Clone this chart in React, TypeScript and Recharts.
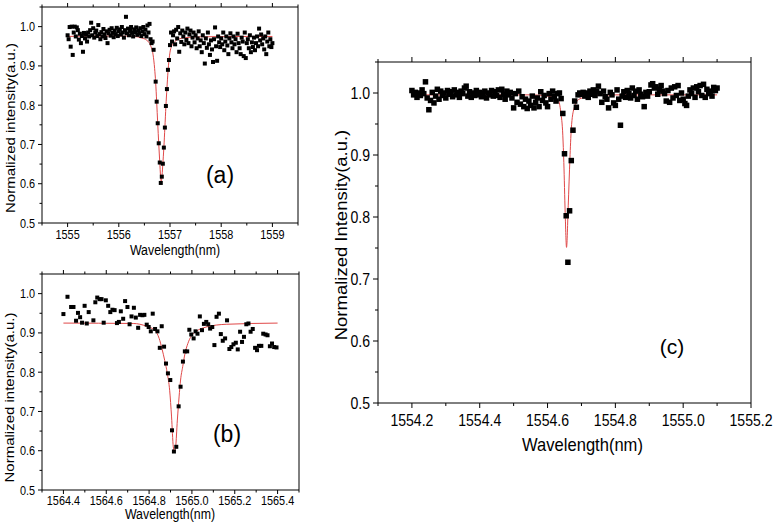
import React from 'react';
import { ComposedChart, XAxis, YAxis, Scatter, Line } from 'recharts';

const FONT = '"Liberation Sans", Arial, Helvetica, sans-serif';

type Pt = [number, number];

// ---------------- Panel (a) ----------------
const aPoints: Pt[] = [
  [1555.00, 0.978], [1555.02, 0.968], [1555.04, 0.999], [1555.06, 0.949], [1555.08, 1.000],
  [1555.10, 0.928], [1555.12, 0.985], [1555.14, 1.000], [1555.16, 0.975], [1555.18, 0.998],
  [1555.20, 0.991], [1555.22, 0.967], [1555.24, 0.982], [1555.26, 0.958], [1555.28, 0.976],
  [1555.30, 0.936], [1555.32, 0.984], [1555.34, 0.970], [1555.36, 0.980], [1555.38, 0.962],
  [1555.40, 0.985], [1555.42, 0.975], [1555.44, 0.991], [1555.46, 1.010], [1555.48, 0.978],
  [1555.50, 0.996], [1555.52, 0.972], [1555.54, 0.985], [1555.56, 0.990], [1555.58, 0.976],
  [1555.60, 1.004], [1555.62, 0.981], [1555.64, 0.968], [1555.66, 0.986], [1555.68, 0.975],
  [1555.70, 0.994], [1555.72, 0.980], [1555.74, 0.971], [1555.76, 0.988], [1555.78, 0.958],
  [1555.80, 0.983], [1555.82, 0.992], [1555.84, 0.977], [1555.86, 0.996], [1555.88, 0.984],
  [1555.90, 0.973], [1555.92, 0.990], [1555.94, 0.981], [1555.96, 0.997], [1555.98, 0.976],
  [1556.00, 0.988], [1556.02, 0.993], [1556.04, 0.980], [1556.06, 0.999], [1556.08, 0.985],
  [1556.10, 0.972], [1556.12, 0.991], [1556.14, 1.025], [1556.16, 0.983], [1556.18, 0.995],
  [1556.20, 0.978], [1556.22, 0.989], [1556.24, 0.999], [1556.26, 0.984], [1556.28, 0.975],
  [1556.30, 0.993], [1556.32, 0.986], [1556.34, 0.998], [1556.36, 0.979], [1556.38, 0.990],
  [1556.40, 0.983], [1556.42, 0.996], [1556.44, 0.976], [1556.46, 0.988], [1556.48, 0.999],
  [1556.50, 0.981], [1556.52, 0.992], [1556.54, 0.975], [1556.56, 1.003], [1556.58, 0.985],
  [1556.60, 1.007], [1556.62, 0.968], [1556.64, 0.958], [1556.66, 0.962], [1556.68, 0.941],
  [1556.72, 0.860], [1556.74, 0.809], [1556.76, 0.754], [1556.78, 0.703], [1556.80, 0.654],
  [1556.82, 0.602], [1556.84, 0.618], [1556.86, 0.651], [1556.88, 0.692], [1556.90, 0.743],
  [1556.92, 0.798], [1556.94, 0.841], [1556.96, 0.890], [1556.98, 0.915], [1557.00, 0.953],
  [1557.02, 0.985], [1557.04, 0.962], [1557.06, 0.978], [1557.08, 0.988], [1557.10, 0.955],
  [1557.12, 0.992], [1557.14, 0.970], [1557.16, 0.999], [1557.18, 0.936], [1557.20, 0.983],
  [1557.22, 0.961], [1557.24, 0.990], [1557.26, 0.975], [1557.28, 0.955], [1557.30, 0.985],
  [1557.32, 0.966], [1557.34, 0.995], [1557.36, 0.958], [1557.38, 0.980], [1557.40, 0.990],
  [1557.42, 0.950], [1557.44, 0.972], [1557.46, 0.985], [1557.48, 0.960], [1557.50, 0.978],
  [1557.52, 0.945], [1557.54, 0.970], [1557.56, 0.988], [1557.58, 0.950], [1557.60, 0.965],
  [1557.62, 0.935], [1557.64, 0.978], [1557.66, 0.958], [1557.68, 0.906], [1557.70, 0.970],
  [1557.72, 0.946], [1557.74, 0.985], [1557.76, 0.955], [1557.78, 0.928], [1557.80, 0.965],
  [1557.82, 0.942], [1557.84, 0.910], [1557.86, 0.968], [1557.88, 0.998], [1557.90, 0.950],
  [1557.92, 0.913], [1557.94, 0.975], [1557.96, 0.960], [1557.98, 0.948], [1558.00, 0.970],
  [1558.02, 0.955], [1558.04, 0.985], [1558.06, 0.940], [1558.08, 0.962], [1558.10, 0.975],
  [1558.12, 0.952], [1558.14, 0.930], [1558.16, 0.970], [1558.18, 0.983], [1558.20, 0.960],
  [1558.22, 0.945], [1558.24, 0.975], [1558.26, 0.955], [1558.28, 0.968], [1558.30, 0.935],
  [1558.32, 0.982], [1558.34, 0.958], [1558.36, 0.945], [1558.38, 0.930], [1558.40, 0.972],
  [1558.42, 0.962], [1558.44, 0.925], [1558.46, 0.985], [1558.48, 0.920], [1558.50, 0.958],
  [1558.52, 0.968], [1558.54, 0.945], [1558.56, 0.978], [1558.58, 0.935], [1558.60, 0.960],
  [1558.62, 0.948], [1558.64, 0.972], [1558.66, 0.940], [1558.68, 0.958], [1558.70, 0.975],
  [1558.72, 0.950], [1558.74, 0.995], [1558.76, 0.965], [1558.78, 0.980], [1558.80, 0.955],
  [1558.82, 0.970], [1558.84, 0.942], [1558.86, 0.975], [1558.88, 0.930], [1558.90, 0.962],
  [1558.92, 0.985], [1558.94, 0.950], [1558.96, 0.968], [1558.98, 0.948], [1559.00, 0.958],
];
const aFit: Pt[] = [
  [1555.00, 0.975], [1555.50, 0.976], [1556.00, 0.976], [1556.30, 0.975], [1556.45, 0.971],
  [1556.55, 0.965], [1556.62, 0.952], [1556.67, 0.928], [1556.70, 0.893], [1556.72, 0.858],
  [1556.74, 0.808], [1556.76, 0.754], [1556.78, 0.702], [1556.80, 0.655], [1556.815, 0.620],
  [1556.83, 0.606], [1556.845, 0.622], [1556.86, 0.650], [1556.88, 0.692], [1556.90, 0.743],
  [1556.92, 0.797], [1556.94, 0.843], [1556.96, 0.884], [1556.98, 0.914], [1557.00, 0.935],
  [1557.03, 0.950], [1557.08, 0.960], [1557.15, 0.967], [1557.30, 0.972], [1557.60, 0.974],
  [1558.50, 0.975], [1559.00, 0.975],
];
const aXMajor = [1555, 1556, 1557, 1558, 1559];
const aXMinor = [1554.5, 1555.5, 1556.5, 1557.5, 1558.5, 1559.5];

// ---------------- Panel (b) ----------------
const bPoints: Pt[] = [
  [1564.400, 0.948], [1564.419, 0.992], [1564.436, 0.966], [1564.447, 0.966], [1564.459, 0.931],
  [1564.468, 0.951], [1564.478, 0.940], [1564.487, 0.926], [1564.499, 0.969], [1564.509, 0.924],
  [1564.518, 0.953], [1564.540, 0.932], [1564.549, 0.978], [1564.558, 0.990], [1564.569, 0.986],
  [1564.578, 0.986], [1564.588, 0.926], [1564.598, 0.983], [1564.609, 0.969], [1564.619, 0.953],
  [1564.629, 0.959], [1564.639, 0.958], [1564.650, 0.925], [1564.659, 0.928], [1564.668, 0.955],
  [1564.679, 0.936], [1564.688, 0.981], [1564.699, 0.966], [1564.709, 0.922], [1564.718, 0.942],
  [1564.729, 0.964], [1564.738, 0.939], [1564.749, 0.913], [1564.758, 0.946], [1564.769, 0.945],
  [1564.778, 0.946], [1564.789, 0.921], [1564.798, 0.915], [1564.808, 0.904], [1564.817, 0.949],
  [1564.828, 0.910], [1564.839, 0.904], [1564.850, 0.862], [1564.859, 0.917], [1564.870, 0.865],
  [1564.879, 0.822], [1564.888, 0.797], [1564.899, 0.780], [1564.907, 0.652], [1564.916, 0.598],
  [1564.927, 0.610], [1564.938, 0.713], [1564.947, 0.763], [1564.958, 0.827], [1564.967, 0.853],
  [1564.978, 0.853], [1564.988, 0.908], [1564.997, 0.896], [1565.008, 0.886], [1565.017, 0.904],
  [1565.026, 0.898], [1565.037, 0.942], [1565.047, 0.907], [1565.056, 0.923], [1565.067, 0.928],
  [1565.076, 0.922], [1565.085, 0.911], [1565.095, 0.915], [1565.105, 0.869], [1565.115, 0.941],
  [1565.126, 0.949], [1565.135, 0.897], [1565.144, 0.880], [1565.155, 0.886], [1565.164, 0.932],
  [1565.175, 0.859], [1565.184, 0.864], [1565.194, 0.871], [1565.205, 0.875], [1565.214, 0.858],
  [1565.225, 0.903], [1565.234, 0.877], [1565.243, 0.890], [1565.254, 0.922], [1565.264, 0.924],
  [1565.274, 0.903], [1565.284, 0.910], [1565.295, 0.862], [1565.304, 0.856], [1565.313, 0.867],
  [1565.324, 0.867], [1565.333, 0.898], [1565.344, 0.896], [1565.353, 0.894], [1565.364, 0.866],
  [1565.374, 0.873], [1565.384, 0.864], [1565.395, 0.863],
];
const bFit: Pt[] = [
  [1564.400, 0.925], [1564.726, 0.924], [1564.788, 0.917], [1564.826, 0.907], [1564.847, 0.886],
  [1564.860, 0.860], [1564.873, 0.830], [1564.885, 0.797], [1564.896, 0.754], [1564.905, 0.686],
  [1564.913, 0.610], [1564.918, 0.598], [1564.924, 0.610], [1564.932, 0.678], [1564.940, 0.737],
  [1564.947, 0.780], [1564.957, 0.814], [1564.967, 0.846], [1564.981, 0.873], [1564.997, 0.892],
  [1565.020, 0.904], [1565.067, 0.915], [1565.160, 0.922], [1565.400, 0.925],
];
const bXMajor = [1564.4, 1564.6, 1564.8, 1565.0, 1565.2, 1565.4];
const bXMinor = [1564.3, 1564.5, 1564.7, 1564.9, 1565.1, 1565.3, 1565.5];

// ---------------- Panel (c) ----------------
const cPoints: Pt[] = [
  [1554.200, 1.004], [1554.205, 0.997], [1554.210, 1.001], [1554.215, 0.993], [1554.220, 1.000],
  [1554.225, 0.996], [1554.230, 1.005], [1554.235, 0.999], [1554.240, 1.018], [1554.245, 0.992],
  [1554.250, 0.973], [1554.255, 0.988], [1554.260, 1.001], [1554.265, 0.984], [1554.270, 0.995],
  [1554.275, 1.006], [1554.280, 0.990], [1554.285, 1.003], [1554.290, 0.996], [1554.295, 1.000],
  [1554.300, 0.992], [1554.305, 1.004], [1554.310, 0.998], [1554.315, 1.002], [1554.320, 0.994],
  [1554.325, 1.005], [1554.330, 0.997], [1554.335, 1.001], [1554.340, 0.993], [1554.345, 1.003],
  [1554.350, 0.999], [1554.355, 1.008], [1554.360, 1.011], [1554.365, 0.995], [1554.370, 1.002],
  [1554.375, 0.993], [1554.380, 1.000], [1554.385, 0.996], [1554.390, 1.004], [1554.395, 0.997],
  [1554.400, 1.001], [1554.405, 0.994], [1554.410, 0.999], [1554.415, 1.003], [1554.420, 0.992],
  [1554.425, 1.000], [1554.430, 0.997], [1554.435, 1.004], [1554.440, 0.995], [1554.445, 1.002],
  [1554.450, 0.996], [1554.455, 1.005], [1554.460, 0.993], [1554.465, 1.006], [1554.470, 0.998],
  [1554.475, 0.990], [1554.480, 1.003], [1554.485, 0.997], [1554.490, 1.001], [1554.495, 0.992],
  [1554.500, 0.976], [1554.505, 0.999], [1554.510, 0.985], [1554.515, 1.003], [1554.520, 0.982],
  [1554.525, 0.994], [1554.530, 0.978], [1554.535, 0.990], [1554.540, 0.975], [1554.545, 0.987],
  [1554.550, 0.980], [1554.555, 0.995], [1554.560, 0.976], [1554.565, 0.985], [1554.570, 0.992],
  [1554.575, 0.978], [1554.580, 1.002], [1554.585, 0.988], [1554.590, 0.996], [1554.595, 0.984],
  [1554.600, 0.978], [1554.605, 0.999], [1554.610, 0.990], [1554.615, 1.003], [1554.620, 0.994],
  [1554.625, 0.987], [1554.630, 0.999], [1554.635, 1.000], [1554.640, 0.991], [1554.645, 0.967],
  [1554.650, 0.902], [1554.655, 0.802], [1554.660, 0.727], [1554.665, 0.810], [1554.670, 0.891],
  [1554.675, 0.940], [1554.680, 0.987], [1554.685, 0.977], [1554.690, 0.997], [1554.695, 1.000],
  [1554.700, 0.998], [1554.705, 1.001], [1554.710, 0.995], [1554.715, 1.000], [1554.720, 0.993],
  [1554.725, 1.003], [1554.730, 0.998], [1554.735, 1.005], [1554.740, 0.996], [1554.745, 1.002],
  [1554.750, 1.011], [1554.755, 0.999], [1554.760, 0.985], [1554.765, 1.003], [1554.770, 0.994],
  [1554.775, 0.990], [1554.780, 0.976], [1554.785, 1.001], [1554.790, 0.997], [1554.795, 0.984],
  [1554.800, 0.980], [1554.805, 1.005], [1554.810, 0.990], [1554.815, 0.948], [1554.820, 0.995],
  [1554.825, 1.002], [1554.830, 0.993], [1554.835, 1.004], [1554.840, 0.999], [1554.845, 0.992],
  [1554.850, 1.008], [1554.855, 0.996], [1554.860, 1.003], [1554.865, 0.990], [1554.870, 1.005],
  [1554.875, 0.998], [1554.880, 0.994], [1554.885, 0.978], [1554.890, 1.001], [1554.895, 0.995],
  [1554.900, 1.002], [1554.905, 1.013], [1554.910, 1.015], [1554.915, 1.008], [1554.920, 1.010],
  [1554.925, 0.998], [1554.930, 1.006], [1554.935, 1.012], [1554.940, 1.003], [1554.945, 0.999],
  [1554.950, 0.987], [1554.955, 1.004], [1554.960, 0.985], [1554.965, 1.008], [1554.970, 0.992],
  [1554.975, 1.010], [1554.980, 0.996], [1554.985, 1.012], [1554.990, 0.988], [1554.995, 1.000],
  [1555.000, 0.990], [1555.005, 0.983], [1555.010, 0.980], [1555.015, 0.995], [1555.020, 1.005],
  [1555.025, 0.999], [1555.030, 1.008], [1555.035, 0.993], [1555.040, 1.010], [1555.045, 1.002],
  [1555.050, 1.012], [1555.055, 0.996], [1555.060, 1.014], [1555.065, 0.993], [1555.070, 1.006],
  [1555.075, 0.999], [1555.080, 1.003], [1555.085, 0.995], [1555.090, 1.009], [1555.095, 1.004],
  [1555.100, 1.008],
];
const cFit: Pt[] = [
  [1554.200, 0.997], [1554.550, 0.997], [1554.610, 0.994], [1554.632, 0.988], [1554.639, 0.969],
  [1554.645, 0.932], [1554.648, 0.888], [1554.652, 0.807], [1554.656, 0.751], [1554.661, 0.818],
  [1554.666, 0.894], [1554.670, 0.942], [1554.678, 0.975], [1554.693, 0.990], [1554.727, 0.995],
  [1554.800, 0.997], [1555.100, 0.997],
];
const cXMajor = [1554.2, 1554.4, 1554.6, 1554.8, 1555.0, 1555.2];
const cXMinor = [1554.1, 1554.3, 1554.5, 1554.7, 1554.9, 1555.1];

// shared y ticks
const yMajor = [0.5, 0.6, 0.7, 0.8, 0.9, 1.0];
const yMinor = [0.55, 0.65, 0.75, 0.85, 0.95, 1.05];

const near = (arr: number[], v: number) => arr.some((m) => Math.abs(m - v) < 1e-6);

type Cfg = {
  left: number; top: number; width: number; height: number;
  yw: number; rw: number; th: number; bh: number;
  xDomain: [number, number]; xMajor: number[]; xMinor: number[]; xDigits: number;
  points: Pt[]; fit: Pt[]; ms: number;
  fs: number; sx: number; majLen: number; minLen: number; xLabDy: number; yLabGap: number;
};

const LINE_COLOR = '#e04848';

function Panel({ cfg }: { cfg: Cfg }) {
  const scatter = cfg.points.map(([x, y]) => ({ x, y }));
  const line = cfg.fit.map(([x, y]) => ({ x, y }));
  const xTicks = [...cfg.xMajor, ...cfg.xMinor].sort((a, b) => a - b);
  const yTicks = [...yMajor, ...yMinor].sort((a, b) => a - b);

  const bottomTick = (p: any) => {
    const major = near(cfg.xMajor, p.payload.value);
    const len = major ? cfg.majLen : cfg.minLen;
    return (
      <g>
        <line x1={p.x} x2={p.x} y1={p.y} y2={p.y + len} stroke="#000" strokeWidth={1} />
        {major && (
          <text
            transform={`translate(${p.x},${p.y + cfg.xLabDy}) scale(${cfg.sx},1)`}
            textAnchor="middle"
            fontSize={cfg.fs}
            fontFamily={FONT}
            fill="#000"
          >
            {p.payload.value.toFixed(cfg.xDigits)}
          </text>
        )}
      </g>
    );
  };
  const topTick = (p: any) => {
    const major = near(cfg.xMajor, p.payload.value);
    const len = major ? cfg.majLen : cfg.minLen;
    return (
      <g>
        <line x1={p.x} x2={p.x} y1={p.y} y2={p.y - len} stroke="#000" strokeWidth={1} />
      </g>
    );
  };
  const leftTick = (p: any) => {
    const major = near(yMajor, p.payload.value);
    const len = major ? cfg.majLen : cfg.minLen;
    return (
      <g>
        <line x1={p.x - len} x2={p.x} y1={p.y} y2={p.y} stroke="#000" strokeWidth={1} />
        {major && (
          <text
            transform={`translate(${p.x - cfg.majLen - cfg.yLabGap},${p.y}) scale(${cfg.sx},1)`}
            textAnchor="end"
            dy="0.36em"
            fontSize={cfg.fs}
            fontFamily={FONT}
            fill="#000"
          >
            {p.payload.value.toFixed(1)}
          </text>
        )}
      </g>
    );
  };
  const ms = cfg.ms;
  return (
    <div style={{ position: 'absolute', left: cfg.left, top: cfg.top }}>
      <ComposedChart width={cfg.width} height={cfg.height} margin={{ top: 0, right: 0, bottom: 0, left: 0 }}>
        <XAxis
          xAxisId="b" dataKey="x" type="number" orientation="bottom" domain={cfg.xDomain} allowDataOverflow
          ticks={xTicks} interval={0} height={cfg.bh} tickLine={false} tickSize={0} tickMargin={0}
          axisLine={{ stroke: '#000', strokeWidth: 1 }} tick={bottomTick}
        />
        <XAxis
          xAxisId="t" dataKey="x" type="number" orientation="top" domain={cfg.xDomain} allowDataOverflow
          ticks={xTicks} interval={0} height={cfg.th} tickLine={false} tickSize={0} tickMargin={0}
          axisLine={{ stroke: '#000', strokeWidth: 1 }} tick={topTick}
        />
        <YAxis
          yAxisId="l" dataKey="y" type="number" orientation="left" domain={[0.5, 1.05]} allowDataOverflow
          ticks={yTicks} interval={0} width={cfg.yw} tickLine={false} tickSize={0} tickMargin={0}
          axisLine={{ stroke: '#000', strokeWidth: 1 }} tick={leftTick}
        />
        <YAxis
          yAxisId="r" type="number" orientation="right" domain={[0.5, 1.05]} allowDataOverflow
          width={cfg.rw} tick={false} tickLine={false} axisLine={{ stroke: '#000', strokeWidth: 1 }}
        />
        <Scatter
          xAxisId="b" yAxisId="l" data={scatter} dataKey="y" isAnimationActive={false}
          shape={(p: any) => <rect x={p.cx - ms / 2} y={p.cy - ms / 2} width={ms} height={ms} fill="#000" />}
        />
        <Line
          xAxisId="b" yAxisId="l" data={line} dataKey="y" type="monotone" dot={false} activeDot={false}
          stroke={LINE_COLOR} strokeWidth={1} isAnimationActive={false}
        />
      </ComposedChart>
    </div>
  );
}

const cfgA: Cfg = {
  left: 0, top: 0, width: 305, height: 265, yw: 42, rw: 7, th: 7, bh: 42,
  xDomain: [1554.5, 1559.5], xMajor: aXMajor, xMinor: aXMinor, xDigits: 0,
  points: aPoints, fit: aFit, ms: 4,
  fs: 12.5, sx: 0.87, majLen: 4, minLen: 2.5, xLabDy: 16, yLabGap: 3,
};
const cfgB: Cfg = {
  left: 0, top: 266, width: 305, height: 265, yw: 42, rw: 6, th: 8, bh: 41,
  xDomain: [1564.3, 1565.5], xMajor: bXMajor, xMinor: bXMinor, xDigits: 1,
  points: bPoints, fit: bFit, ms: 4,
  fs: 12.5, sx: 0.87, majLen: 4, minLen: 2.5, xLabDy: 14.5, yLabGap: 3,
};
const cfgC: Cfg = {
  left: 325, top: 50, width: 450, height: 420, yw: 53, rw: 24, th: 12, bh: 67,
  xDomain: [1554.1, 1555.2], xMajor: cXMajor, xMinor: cXMinor, xDigits: 1,
  points: cPoints, fit: cFit, ms: 5.5,
  fs: 16, sx: 0.88, majLen: 5, minLen: 3, xLabDy: 23, yLabGap: 3,
};

const HText = ({ x, y, fs, s, children }: any) => (
  <text transform={`translate(${x},${y}) scale(${s},1)`} textAnchor="middle" fontSize={fs} fontFamily={FONT} fill="#000">
    {children}
  </text>
);
const VText = ({ x, y, fs, s, children }: any) => (
  <text transform={`translate(${x},${y}) rotate(-90) scale(1,${s})`} textAnchor="middle" fontSize={fs} fontFamily={FONT} fill="#000">
    {children}
  </text>
);

export default function App() {
  return (
    <div style={{ position: 'absolute', left: 0, top: 0, width: 775, height: 531, background: '#fff', overflow: 'hidden' }}>
      <Panel cfg={cfgA} />
      <Panel cfg={cfgB} />
      <Panel cfg={cfgC} />
      <svg width={775} height={531} style={{ position: 'absolute', left: 0, top: 0, pointerEvents: 'none' }}>
        <HText x={175} y={255} fs={14.5} s={0.853}>Wavelength(nm)</HText>
        <VText x={14.5} y={128} fs={15} s={0.87}>Normalized intensity(a.u.)</VText>
        <HText x={220} y={183} fs={23} s={1}>(a)</HText>

        <HText x={170} y={519} fs={14.5} s={0.853}>Wavelength(nm)</HText>
        <VText x={14} y={397.5} fs={15} s={0.87}>Normalized intensity(a.u.)</VText>
        <HText x={227} y={442} fs={23} s={1}>(b)</HText>

        <HText x={582.5} y={451} fs={18} s={0.92}>Wavelength(nm)</HText>
        <VText x={347} y={235} fs={18.5} s={0.9}>Normalized Intensity(a.u.)</VText>
        <HText x={672} y={354} fs={21} s={1}>(c)</HText>
      </svg>
    </div>
  );
}
